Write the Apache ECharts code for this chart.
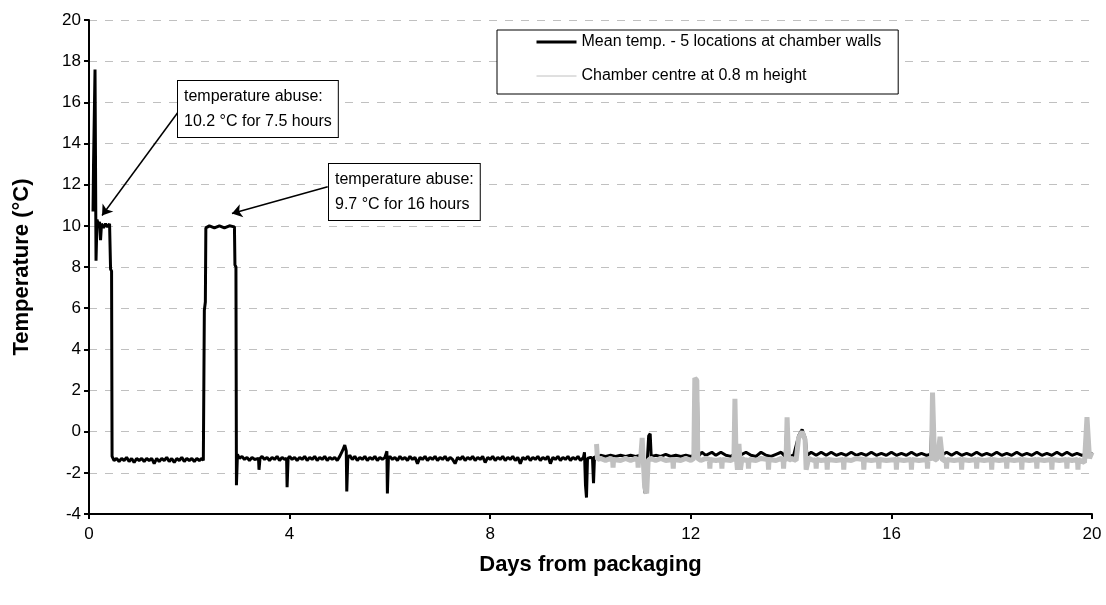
<!DOCTYPE html>
<html>
<head>
<meta charset="utf-8">
<script src="https://cdn.jsdelivr.net/npm/echarts@6/dist/echarts.min.js"></script>
<style>
  html, body { margin: 0; padding: 0; background: #fff; }
  #main { width: 1106px; height: 605px; }
</style>
</head>
<body>
<div id="main"></div>
<script>
var FONT = '"Liberation Sans", Arial, sans-serif';

// [day, temperature °C]
var wallMean = [
  [0.08, 10.7], [0.09, 12.9], [0.12, 17.6], [0.13, 13.0], [0.14, 8.3], [0.16, 10.3], [0.19, 10.0],
  [0.21, 10.2], [0.23, 9.3], [0.25, 10.1], [0.29, 9.9], [0.33, 10.1], [0.37, 9.95], [0.41, 10.1],
  [0.43, 7.9], [0.45, 7.8], [0.46, -1.2], [0.5, -1.4], [0.55, -1.3], [0.6, -1.45], [0.65, -1.3], [0.7, -1.4],
  [0.75, -1.25], [0.8, -1.45], [0.85, -1.3], [0.9, -1.5], [0.95, -1.3], [1.0, -1.4], [1.05, -1.3],
  [1.1, -1.45], [1.15, -1.3], [1.2, -1.4], [1.25, -1.3], [1.3, -1.55], [1.35, -1.3], [1.4, -1.45],
  [1.45, -1.3], [1.5, -1.4], [1.55, -1.25], [1.6, -1.45], [1.65, -1.3], [1.7, -1.5], [1.75, -1.3],
  [1.8, -1.4], [1.85, -1.25], [1.9, -1.45], [1.95, -1.3], [2.0, -1.4], [2.05, -1.3], [2.1, -1.45],
  [2.15, -1.3], [2.2, -1.4], [2.25, -1.3], [2.28, -1.4], [2.3, 5.9], [2.32, 6.3], [2.33, 9.9],
  [2.4, 10.0], [2.5, 9.9], [2.6, 10.0], [2.7, 9.9], [2.8, 10.0], [2.9, 9.95], [2.91, 8.1], [2.93, 8.0],
  [2.94, -2.6], [2.96, -1.1], [3.0, -1.3], [3.05, -1.2], [3.1, -1.35], [3.15, -1.25], [3.2, -1.4],
  [3.25, -1.25], [3.3, -1.35], [3.38, -1.3], [3.39, -1.85], [3.41, -1.3], [3.45, -1.2], [3.5, -1.35],
  [3.55, -1.25], [3.6, -1.4], [3.65, -1.25], [3.7, -1.35], [3.75, -1.2], [3.8, -1.4], [3.85, -1.25],
  [3.9, -1.35], [3.94, -1.3], [3.95, -2.7], [3.97, -1.3], [4.0, -1.2], [4.05, -1.35], [4.1, -1.25],
  [4.15, -1.4], [4.2, -1.25], [4.25, -1.35], [4.3, -1.2], [4.35, -1.4], [4.4, -1.25], [4.45, -1.35],
  [4.5, -1.2], [4.55, -1.4], [4.6, -1.25], [4.65, -1.35], [4.7, -1.2], [4.75, -1.4], [4.8, -1.25],
  [4.85, -1.35], [4.9, -1.25], [4.95, -1.4], [5.0, -1.2], [5.06, -0.9], [5.1, -0.65], [5.13, -0.95],
  [5.14, -2.9], [5.16, -1.3], [5.2, -1.15], [5.25, -1.35], [5.3, -1.2], [5.35, -1.4], [5.4, -1.25],
  [5.45, -1.35], [5.5, -1.2], [5.55, -1.4], [5.6, -1.25], [5.65, -1.35], [5.7, -1.2], [5.75, -1.4],
  [5.8, -1.25], [5.85, -1.35], [5.9, -1.25], [5.94, -0.95], [5.95, -3.0], [5.97, -1.3], [6.0, -1.2],
  [6.05, -1.35], [6.1, -1.25], [6.15, -1.4], [6.2, -1.2], [6.25, -1.35], [6.3, -1.25], [6.35, -1.4],
  [6.4, -1.2], [6.45, -1.35], [6.5, -1.25], [6.55, -1.55], [6.6, -1.25], [6.65, -1.35], [6.7, -1.2],
  [6.75, -1.4], [6.8, -1.25], [6.85, -1.35], [6.9, -1.2], [6.95, -1.4], [7.0, -1.25], [7.05, -1.35],
  [7.1, -1.2], [7.15, -1.4], [7.2, -1.25], [7.25, -1.35], [7.3, -1.55], [7.35, -1.25], [7.4, -1.35],
  [7.45, -1.2], [7.5, -1.4], [7.55, -1.25], [7.6, -1.35], [7.65, -1.2], [7.7, -1.4], [7.75, -1.25],
  [7.8, -1.35], [7.85, -1.2], [7.9, -1.5], [7.95, -1.25], [8.0, -1.35], [8.05, -1.2], [8.1, -1.4],
  [8.15, -1.25], [8.2, -1.35], [8.25, -1.2], [8.3, -1.4], [8.35, -1.25], [8.4, -1.35], [8.45, -1.2],
  [8.5, -1.4], [8.55, -1.25], [8.6, -1.55], [8.65, -1.25], [8.7, -1.35], [8.75, -1.2], [8.8, -1.4],
  [8.85, -1.25], [8.9, -1.35], [8.95, -1.2], [9.0, -1.4], [9.05, -1.25], [9.1, -1.35], [9.15, -1.2],
  [9.2, -1.55], [9.25, -1.25], [9.3, -1.35], [9.35, -1.2], [9.4, -1.4], [9.45, -1.25], [9.5, -1.35],
  [9.55, -1.2], [9.6, -1.4], [9.65, -1.25], [9.7, -1.35], [9.75, -1.2], [9.8, -1.4], [9.86, -1.25],
  [9.88, -1.0], [9.9, -2.6], [9.92, -3.2], [9.94, -1.3], [10.0, -1.25], [10.04, -1.3], [10.06, -2.5],
  [10.08, -1.2], [10.14, -1.3],
  [10.2, -1.15], [10.3, -1.2], [10.4, -1.15], [10.5, -1.2], [10.6, -1.15], [10.7, -1.2], [10.8, -1.15],
  [10.9, -1.2], [11.0, -1.15], [11.06, -1.5], [11.09, -3.0], [11.12, -2.0], [11.16, -0.2], [11.19, -0.1],
  [11.21, -1.2], [11.3, -1.15], [11.4, -1.2], [11.5, -1.1], [11.6, -1.2], [11.7, -1.15], [11.8, -1.2],
  [11.9, -1.15], [12.0, -1.2], [12.06, -1.15], [12.09, 2.3], [12.13, 2.2], [12.15, -1.2], [12.22, -1.0],
  [12.3, -1.15], [12.42, -1.0], [12.5, -1.15], [12.6, -1.0], [12.7, -1.15], [12.8, -1.2], [12.86, -1.1],
  [12.88, 0.6], [12.91, -0.9], [12.95, -0.7], [12.98, -1.15], [13.1, -1.0], [13.2, -1.15], [13.3, -1.2],
  [13.4, -1.0], [13.5, -1.15], [13.6, -1.2], [13.7, -1.1], [13.8, -1.0], [13.88, -1.2], [13.92, 0.4],
  [13.95, -1.2], [14.05, -1.15], [14.15, -0.2], [14.22, 0.1], [14.28, -0.3], [14.32, -1.15], [14.4, -1.0],
  [14.5, -1.15], [14.6, -1.0], [14.7, -1.15], [14.8, -1.0], [14.9, -1.15], [15.0, -1.05], [15.1, -1.15],
  [15.2, -1.0], [15.3, -1.15], [15.4, -1.05], [15.5, -1.15], [15.6, -1.0], [15.7, -1.15], [15.8, -1.05],
  [15.9, -1.15], [16.0, -1.0], [16.1, -1.15], [16.2, -1.05], [16.3, -1.15], [16.4, -1.0], [16.5, -1.15],
  [16.6, -1.05], [16.7, -1.15], [16.78, -1.1], [16.81, 0.4], [16.84, -1.2], [16.9, -1.05], [17.0, -1.15],
  [17.1, -1.0], [17.2, -1.15], [17.3, -1.0], [17.4, -1.15], [17.5, -1.05], [17.6, -1.15], [17.7, -1.0],
  [17.8, -1.15], [17.9, -1.05], [18.0, -1.15], [18.1, -1.0], [18.2, -1.15], [18.3, -1.05], [18.4, -1.15],
  [18.5, -1.0], [18.6, -1.15], [18.7, -1.05], [18.8, -1.15], [18.9, -1.0], [19.0, -1.15], [19.1, -1.05],
  [19.2, -1.15], [19.3, -1.0], [19.4, -1.15], [19.5, -1.0], [19.6, -1.15], [19.7, -1.05], [19.8, -1.15],
  [19.86, -1.1], [19.9, 0.1], [19.95, -1.2], [20.0, -1.0]
];

var chamberCentre = [
  [10.12, -0.6], [10.14, -1.35], [10.2, -1.3], [10.3, -1.4], [10.4, -1.3], [10.44, -1.35], [10.45, -1.75],
  [10.46, -1.35], [10.6, -1.4], [10.7, -1.3], [10.8, -1.4], [10.9, -1.3], [10.94, -1.35], [10.95, -1.75],
  [10.96, -1.35], [11.0, -1.3], [11.03, -0.3], [11.05, -0.3], [11.08, -2.7], [11.12, -3.0], [11.15, -1.4],
  [11.2, -1.3], [11.3, -1.4], [11.4, -1.3], [11.5, -1.4], [11.64, -1.35], [11.65, -1.8], [11.66, -1.35],
  [11.8, -1.4], [11.9, -1.3], [12.0, -1.4], [12.06, -1.3], [12.08, 2.6], [12.12, 2.5], [12.14, -1.3],
  [12.2, -1.4], [12.3, -1.3], [12.37, -1.35], [12.38, -1.8], [12.39, -1.35], [12.5, -1.4], [12.61, -1.35],
  [12.62, -1.8], [12.63, -1.35], [12.8, -1.4], [12.86, -1.3], [12.88, 1.6], [12.9, -1.0], [12.93, -1.85],
  [12.96, -0.6], [12.99, -1.85], [13.02, -1.3], [13.1, -1.4], [13.14, -1.35], [13.15, -1.8], [13.16, -1.35],
  [13.3, -1.4], [13.4, -1.3], [13.54, -1.35], [13.55, -1.85], [13.56, -1.35], [13.7, -1.4], [13.8, -1.3],
  [13.84, -1.35], [13.85, -1.8], [13.86, -1.35], [13.9, -1.4], [13.92, 0.7], [13.95, -1.4], [14.0, -1.3],
  [14.1, -1.4], [14.15, -0.3], [14.22, 0.0], [14.28, -0.4], [14.3, -1.85], [14.35, -1.3], [14.45, -1.4],
  [14.49, -1.35], [14.5, -1.8], [14.51, -1.35], [14.6, -1.4], [14.71, -1.35], [14.72, -1.85], [14.73, -1.35],
  [14.9, -1.4], [15.04, -1.35], [15.05, -1.85], [15.06, -1.35], [15.2, -1.4], [15.3, -1.3], [15.44, -1.35],
  [15.45, -1.85], [15.46, -1.35], [15.6, -1.4], [15.74, -1.35], [15.75, -1.8], [15.76, -1.35], [15.9, -1.4],
  [16.09, -1.35], [16.1, -1.85], [16.11, -1.35], [16.25, -1.4], [16.39, -1.35], [16.4, -1.85], [16.41, -1.35],
  [16.55, -1.4], [16.71, -1.35], [16.72, -1.8], [16.73, -1.35], [16.8, -1.3], [16.82, 1.9], [16.86, -1.4],
  [16.92, -1.3], [16.97, -0.25], [17.02, -1.4], [17.09, -1.35], [17.1, -1.8], [17.11, -1.35], [17.25, -1.4],
  [17.39, -1.35], [17.4, -1.85], [17.41, -1.35], [17.55, -1.4], [17.69, -1.35], [17.7, -1.8], [17.71, -1.35],
  [17.85, -1.4], [17.99, -1.35], [18.0, -1.85], [18.01, -1.35], [18.15, -1.4], [18.29, -1.35], [18.3, -1.8],
  [18.31, -1.35], [18.45, -1.4], [18.59, -1.35], [18.6, -1.85], [18.61, -1.35], [18.75, -1.4], [18.89, -1.35],
  [18.9, -1.8], [18.91, -1.35], [19.05, -1.4], [19.19, -1.35], [19.2, -1.85], [19.21, -1.35], [19.35, -1.4],
  [19.49, -1.35], [19.5, -1.8], [19.51, -1.35], [19.6, -1.4], [19.71, -1.35], [19.72, -1.85], [19.73, -1.35],
  [19.85, -1.5], [19.9, 0.7], [19.95, -1.3], [20.0, -1.0]
];

var seriesNames = ['Mean temp. - 5 locations at chamber walls', 'Chamber centre at 0.8 m height'];
var xTicks = { min: 0, max: 20, interval: 4 };
var yTicks = { min: -4, max: 20, interval: 2 };

// arrows: [from, to] in data units
var arrows = [
  [[1.8, 15.6], [0.26, 10.5]],
  [[4.76, 11.9], [2.85, 10.6]]
];
var notes = ['temperature abuse:\n10.2 °C for 7.5 hours', 'temperature abuse:\n9.7 °C for 16 hours'];

var chart = echarts.init(document.getElementById('main'));

chart.setOption({
  animation: false,
  backgroundColor: '#fff',
  grid: { left: 89, right: 14, top: 20, bottom: 91 },
  legend: {
    orient: 'vertical',
    left: 497,
    top: 30,
    padding: [4, 17, 10, 38],
    itemGap: 18,
    itemWidth: 40,
    itemHeight: 16,
    borderColor: '#000',
    borderWidth: 1,
    borderRadius: 0,
    backgroundColor: '#fff',
    textStyle: { fontFamily: FONT, fontSize: 16, color: '#000' },
    data: [
      { name: seriesNames[0], lineStyle: { width: 3 }, itemStyle: { opacity: 0 } },
      { name: seriesNames[1], lineStyle: { width: 1 }, itemStyle: { opacity: 0 } }
    ]
  },
  xAxis: {
    type: 'value',
    min: xTicks.min, max: xTicks.max, interval: xTicks.interval,
    name: 'Days from packaging',
    nameLocation: 'middle',
    nameGap: 40,
    nameTextStyle: { fontFamily: FONT, fontSize: 22, fontWeight: 'bold', color: '#000' },
    axisLine: { onZero: false, lineStyle: { color: '#000', width: 2 } },
    axisTick: { show: true, length: 5, lineStyle: { color: '#000', width: 2 } },
    axisLabel: { fontFamily: FONT, fontSize: 17, color: '#000', margin: 12 },
    splitLine: { show: false }
  },
  yAxis: {
    type: 'value',
    min: yTicks.min, max: yTicks.max, interval: yTicks.interval,
    name: 'Temperature (°C)',
    nameLocation: 'middle',
    nameGap: 56,
    nameTextStyle: { fontFamily: FONT, fontSize: 22, fontWeight: 'bold', color: '#000' },
    axisLine: { show: true, onZero: false, lineStyle: { color: '#000', width: 2 } },
    axisTick: { show: true, length: 5, lineStyle: { color: '#000', width: 2 } },
    axisLabel: { fontFamily: FONT, fontSize: 17, color: '#000', margin: 8 },
    splitLine: { show: true, lineStyle: { color: '#c0c0c0', type: [8, 8], width: 1 } }
  },
  series: [
    {
      name: seriesNames[0],
      type: 'line',
      data: wallMean,
      symbol: 'none',
      lineStyle: { color: '#000', width: 3 },
      itemStyle: { color: '#000' },
      z: 2,
      markLine: {
        silent: true,
        symbol: ['none', 'arrow'],
        symbolSize: 10,
        label: { show: false },
        lineStyle: { color: '#000', width: 1.5, type: 'solid' },
        data: arrows.map(function (a) { return [{ coord: a[0] }, { coord: a[1] }]; })
      }
    },
    {
      name: seriesNames[1],
      type: 'line',
      data: chamberCentre,
      symbol: 'none',
      lineStyle: { color: '#c0c0c0', width: 5 },
      itemStyle: { color: '#c0c0c0' },
      z: 3
    }
  ],
  graphic: [
    {
      type: 'text', left: 177, top: 80, z: 100,
      style: {
        text: notes[0], font: '16px ' + FONT, fill: '#000', lineHeight: 25,
        backgroundColor: '#fff', borderColor: '#000', borderWidth: 1, padding: [3, 6, 3, 6]
      }
    },
    {
      type: 'text', left: 328, top: 163, z: 100,
      style: {
        text: notes[1], font: '16px ' + FONT, fill: '#000', lineHeight: 25,
        backgroundColor: '#fff', borderColor: '#000', borderWidth: 1, padding: [3, 6, 3, 6]
      }
    }
  ]
});
</script>
</body>
</html>
